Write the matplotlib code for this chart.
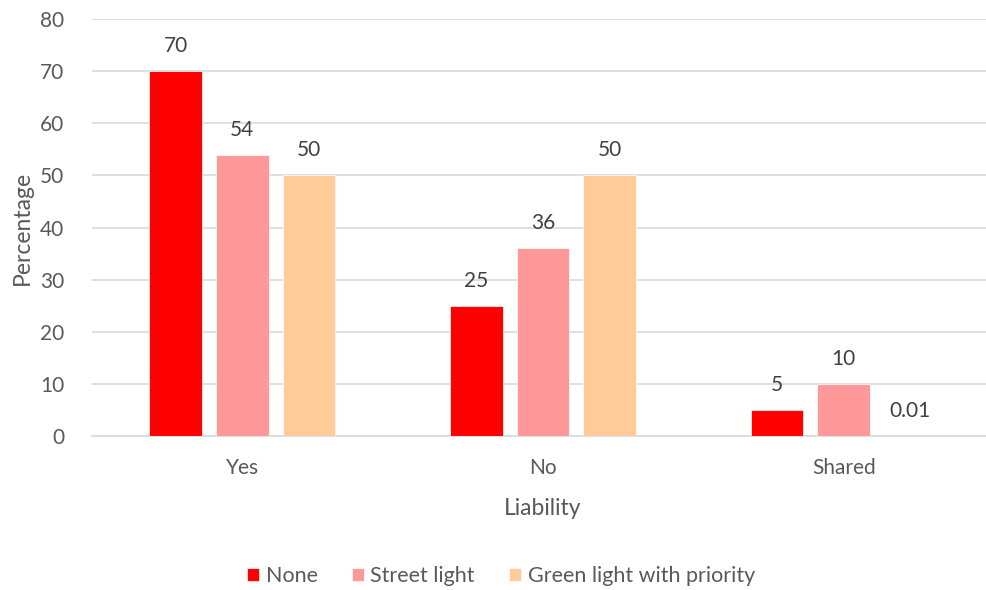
import numpy as np
import matplotlib
matplotlib.use('Agg')
from matplotlib import pyplot as plt

categories = ['Yes', 'No', 'Shared']
series_names = ['None', 'Street light', 'Green light with priority']
none_vals = [70, 25, 5]
street_vals = [54, 36, 10]
green_vals = [50, 50, 0.01]
value_labels = [['70', '25', '5'], ['54', '36', '10'], ['50', '50', '0.01']]
colors = ['#FF0000', '#FF9999', '#FFCC99']

plt.rcParams['font.family'] = ['Lato', 'DejaVu Sans']
text_color = '#595959'

fig = plt.figure(figsize=(9.86, 5.9), dpi=100)
ax = fig.add_axes([92 / 986, 1 - 436 / 590, (994 - 92) / 986, (436 - 19) / 590])

x = np.arange(len(categories))
offsets = [-0.222, 0, 0.222]
width = 0.175
for vals, name, color, off, labels in zip([none_vals, street_vals, green_vals],
                                          series_names, colors, offsets, value_labels):
    bars = ax.bar(x + off, vals, width, color=color, label=name, zorder=3,
                  edgecolor='white', linewidth=0.5)
    for b, lab in zip(bars, labels):
        ax.annotate(lab, (b.get_x() + b.get_width() / 2, b.get_height()),
                    xytext=(0, 18), textcoords='offset points', ha='center',
                    va='center', fontsize=15, color='#404040')

ax.set_xlim(-0.5, 2.5)
ax.set_ylim(0, 80)
ax.set_yticks(range(0, 81, 10))
ax.set_xticks(x)
ax.set_xticklabels(categories)
ax.yaxis.grid(True, color='#D9D9D9', linewidth=1.2, zorder=0)
ax.set_axisbelow(True)
for s in ['top', 'right', 'left']:
    ax.spines[s].set_visible(False)
ax.spines['bottom'].set_color('#D9D9D9')
ax.spines['bottom'].set_linewidth(1.2)
ax.tick_params(axis='both', length=0, labelsize=15, colors=text_color)
ax.tick_params(axis='x', pad=16)
ax.tick_params(axis='y', pad=20)
ax.set_xlabel('Liability', fontsize=16.5, color=text_color, labelpad=14)
ax.set_ylabel('Percentage', fontsize=16.5, color=text_color, labelpad=5)

fig.legend(loc='center', bbox_to_anchor=(501 / 986, 1 - 576 / 590), ncol=3,
           frameon=False, fontsize=15.5, handlelength=0.55, handleheight=0.55,
           handletextpad=0.3, columnspacing=1.6, labelcolor=text_color)

fig.savefig('out.png', dpi=100)
